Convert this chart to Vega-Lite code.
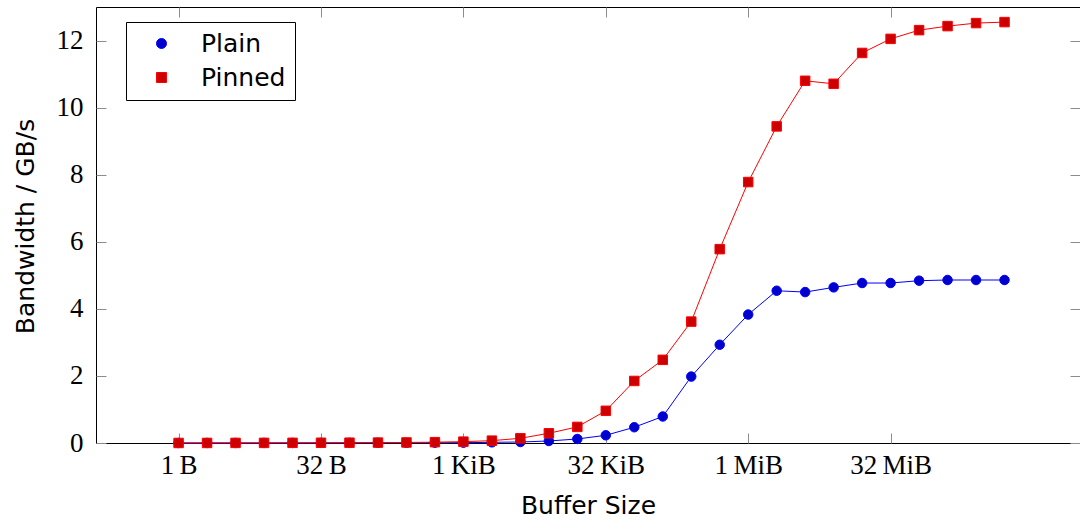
{
  "$schema": "https://vega.github.io/schema/vega-lite/v6.json",
  "width": 984,
  "height": 436,
  "autosize": "none",
  "padding": {"left": 96, "top": 7, "right": 0, "bottom": 80},
  "background": "white",
  "config": {
    "view": {"stroke": "black", "strokeWidth": 1},
    "axis": {
      "grid": false,
      "domain": false,
      "ticks": true,
      "zindex": 1,
      "tickColor": "#8c8c8c",
      "tickWidth": 1,
      "tickSize": 10,
      "offset": -10,
      "labelColor": "black",
      "labelFont": "Liberation Serif",
      "labelFontSize": 27,
      "titleColor": "black",
      "titleFont": "DejaVu Sans",
      "titleFontSize": 25,
      "titleFontWeight": "normal"
    },
    "legend": {
      "strokeColor": "black",
      "fillColor": "white",
      "cornerRadius": 0,
      "padding": 9,
      "labelFont": "DejaVu Sans",
      "labelFontSize": 25,
      "labelColor": "black",
      "labelOffset": 27,
      "rowPadding": 8,
      "symbolSize": 100,
      "symbolOffset": 14,
      "symbolStrokeWidth": 1
    }
  },
  "data": {
    "values": [
      {"size_bytes": 1, "transfer": "Plain", "bandwidth": 0.0005},
      {"size_bytes": 2, "transfer": "Plain", "bandwidth": 0.0008},
      {"size_bytes": 4, "transfer": "Plain", "bandwidth": 0.001},
      {"size_bytes": 8, "transfer": "Plain", "bandwidth": 0.0015},
      {"size_bytes": 16, "transfer": "Plain", "bandwidth": 0.002},
      {"size_bytes": 32, "transfer": "Plain", "bandwidth": 0.003},
      {"size_bytes": 64, "transfer": "Plain", "bandwidth": 0.004},
      {"size_bytes": 128, "transfer": "Plain", "bandwidth": 0.005},
      {"size_bytes": 256, "transfer": "Plain", "bandwidth": 0.006},
      {"size_bytes": 512, "transfer": "Plain", "bandwidth": 0.008},
      {"size_bytes": 1024, "transfer": "Plain", "bandwidth": 0.01},
      {"size_bytes": 2048, "transfer": "Plain", "bandwidth": 0.02},
      {"size_bytes": 4096, "transfer": "Plain", "bandwidth": 0.03},
      {"size_bytes": 8192, "transfer": "Plain", "bandwidth": 0.06},
      {"size_bytes": 16384, "transfer": "Plain", "bandwidth": 0.12},
      {"size_bytes": 32768, "transfer": "Plain", "bandwidth": 0.23},
      {"size_bytes": 65536, "transfer": "Plain", "bandwidth": 0.47},
      {"size_bytes": 131072, "transfer": "Plain", "bandwidth": 0.79},
      {"size_bytes": 262144, "transfer": "Plain", "bandwidth": 1.98},
      {"size_bytes": 524288, "transfer": "Plain", "bandwidth": 2.93},
      {"size_bytes": 1048576, "transfer": "Plain", "bandwidth": 3.83},
      {"size_bytes": 2097152, "transfer": "Plain", "bandwidth": 4.54},
      {"size_bytes": 4194304, "transfer": "Plain", "bandwidth": 4.5},
      {"size_bytes": 8388608, "transfer": "Plain", "bandwidth": 4.64},
      {"size_bytes": 16777216, "transfer": "Plain", "bandwidth": 4.77},
      {"size_bytes": 33554432, "transfer": "Plain", "bandwidth": 4.77},
      {"size_bytes": 67108864, "transfer": "Plain", "bandwidth": 4.84},
      {"size_bytes": 134217728, "transfer": "Plain", "bandwidth": 4.86},
      {"size_bytes": 268435456, "transfer": "Plain", "bandwidth": 4.86},
      {"size_bytes": 536870912, "transfer": "Plain", "bandwidth": 4.86},
      {"size_bytes": 1, "transfer": "Pinned", "bandwidth": 0.001},
      {"size_bytes": 2, "transfer": "Pinned", "bandwidth": 0.002},
      {"size_bytes": 4, "transfer": "Pinned", "bandwidth": 0.003},
      {"size_bytes": 8, "transfer": "Pinned", "bandwidth": 0.004},
      {"size_bytes": 16, "transfer": "Pinned", "bandwidth": 0.005},
      {"size_bytes": 32, "transfer": "Pinned", "bandwidth": 0.007},
      {"size_bytes": 64, "transfer": "Pinned", "bandwidth": 0.009},
      {"size_bytes": 128, "transfer": "Pinned", "bandwidth": 0.012},
      {"size_bytes": 256, "transfer": "Pinned", "bandwidth": 0.016},
      {"size_bytes": 512, "transfer": "Pinned", "bandwidth": 0.025},
      {"size_bytes": 1024, "transfer": "Pinned", "bandwidth": 0.04},
      {"size_bytes": 2048, "transfer": "Pinned", "bandwidth": 0.07},
      {"size_bytes": 4096, "transfer": "Pinned", "bandwidth": 0.14},
      {"size_bytes": 8192, "transfer": "Pinned", "bandwidth": 0.29},
      {"size_bytes": 16384, "transfer": "Pinned", "bandwidth": 0.48},
      {"size_bytes": 32768, "transfer": "Pinned", "bandwidth": 0.96},
      {"size_bytes": 65536, "transfer": "Pinned", "bandwidth": 1.85},
      {"size_bytes": 131072, "transfer": "Pinned", "bandwidth": 2.48},
      {"size_bytes": 262144, "transfer": "Pinned", "bandwidth": 3.62},
      {"size_bytes": 524288, "transfer": "Pinned", "bandwidth": 5.78},
      {"size_bytes": 1048576, "transfer": "Pinned", "bandwidth": 7.78},
      {"size_bytes": 2097152, "transfer": "Pinned", "bandwidth": 9.44},
      {"size_bytes": 4194304, "transfer": "Pinned", "bandwidth": 10.8},
      {"size_bytes": 8388608, "transfer": "Pinned", "bandwidth": 10.71},
      {"size_bytes": 16777216, "transfer": "Pinned", "bandwidth": 11.63},
      {"size_bytes": 33554432, "transfer": "Pinned", "bandwidth": 12.05},
      {"size_bytes": 67108864, "transfer": "Pinned", "bandwidth": 12.31},
      {"size_bytes": 134217728, "transfer": "Pinned", "bandwidth": 12.43},
      {"size_bytes": 268435456, "transfer": "Pinned", "bandwidth": 12.52},
      {"size_bytes": 536870912, "transfer": "Pinned", "bandwidth": 12.55}
    ]
  },
  "layer": [
    {
      "mark": {"type": "line", "strokeWidth": 1},
      "encoding": {
        "x": {
          "field": "size_bytes",
          "type": "quantitative",
          "scale": {"type": "log", "base": 2, "domain": [0.13397, 3369800000], "nice": false},
          "axis": {
            "values": [1, 32, 1024, 32768, 1048576, 33554432],
            "labelExpr": "datum.value == 1 ? '1\u2009B' : datum.value == 32 ? '32\u2009B' : datum.value == 1024 ? '1\u2009KiB' : datum.value == 32768 ? '32\u2009KiB' : datum.value == 1048576 ? '1\u2009MiB' : '32\u2009MiB'",
            "labelPadding": 9,
            "labelFlush": false,
            "title": "Buffer Size",
            "titleBaseline": "alphabetic",
            "titleY": 80,
            "titleAnchor": "middle"
          }
        },
        "y": {
          "field": "bandwidth",
          "type": "quantitative",
          "scale": {"domain": [0, 13], "nice": false, "zero": true},
          "axis": {
            "values": [0, 2, 4, 6, 8, 10, 12],
            "labelPadding": 13,
            "labelFlush": false,
            "title": "Bandwidth / GB/s",
            "titleBaseline": "alphabetic",
            "titleX": -73,
            "titleY": 219,
            "titleAngle": -90,
            "titleAlign": "center",
            "titleAnchor": "middle"
          }
        },
        "stroke": {
          "field": "transfer",
          "type": "nominal",
          "scale": {"domain": ["Plain", "Pinned"], "range": ["#0000ff", "#ff0000"]}
        },
        "detail": {"field": "transfer"}
      }
    },
    {
      "mark": {"type": "point", "filled": true, "strokeWidth": 1, "opacity": 1, "size": 90},
      "encoding": {
        "x": {
          "field": "size_bytes",
          "type": "quantitative",
          "axis": {
            "orient": "top",
            "values": [1, 32, 1024, 32768, 1048576, 33554432],
            "labels": false,
            "title": null
          }
        },
        "y": {
          "field": "bandwidth",
          "type": "quantitative",
          "axis": {
            "orient": "right",
            "values": [0, 2, 4, 6, 8, 10, 12],
            "labels": false,
            "title": null
          }
        },
        "stroke": {"field": "transfer", "type": "nominal"},
        "fill": {
          "field": "transfer",
          "type": "nominal",
          "scale": {"domain": ["Plain", "Pinned"], "range": ["#0000cc", "#cc0000"]},
          "legend": {
            "title": null,
            "orient": "none",
            "legendX": 30,
            "legendY": 15
          }
        },
        "shape": {
          "field": "transfer",
          "type": "nominal",
          "scale": {"domain": ["Plain", "Pinned"], "range": ["circle", "square"]}
        }
      }
    }
  ],
  "resolve": {"axis": {"x": "independent", "y": "independent"}}
}
